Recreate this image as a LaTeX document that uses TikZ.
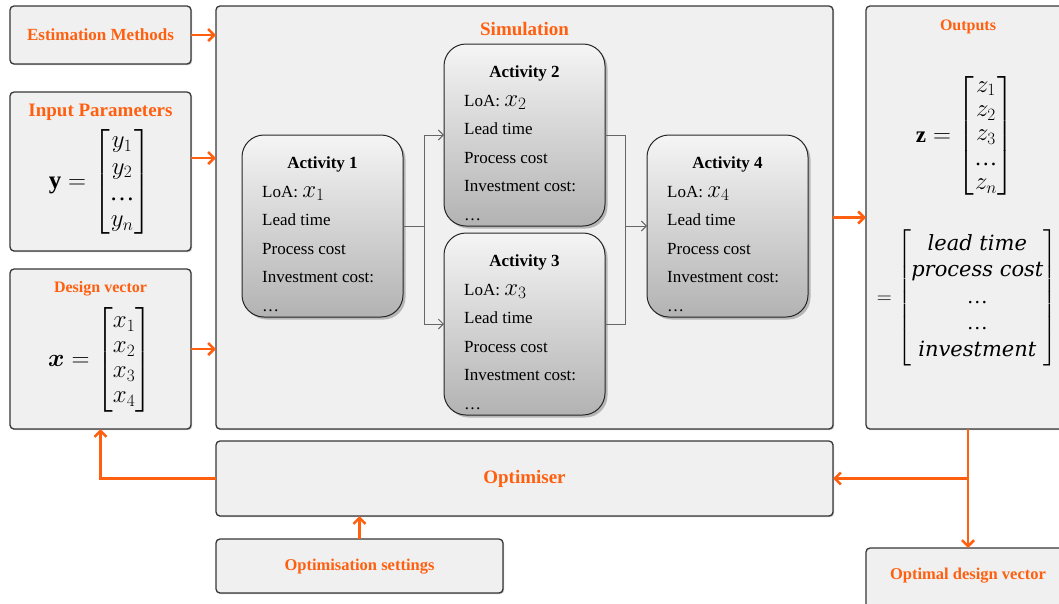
\documentclass[tikz,border=0pt]{standalone}
\usepackage{amsmath,bm}
\usepackage{fontspec}
\setmainfont{Liberation Serif}
\newfontfamily\wordfont{DejaVu Serif}
\usetikzlibrary{arrows.meta,shadows,calc}

\definecolor{accent}{RGB}{255,96,16}
\definecolor{panel}{RGB}{240,240,240}
\definecolor{edge}{RGB}{55,55,55}

\newcommand\wordit[1]{\text{\wordfont\itshape #1}}
\newcommand\dotsrow{\text{…}}

\tikzset{
  panelbox/.style={draw=edge, line width=1.3pt, fill=panel, rounded corners=4pt,
    outer sep=0pt, inner sep=0pt,
    drop shadow={shadow xshift=1.2pt, shadow yshift=-1.2pt, opacity=0.3, fill=black!70}},
  actbox/.style={draw=black!85, line width=1pt, rounded corners=22pt,
    top color=black!4, bottom color=black!30,
    minimum width=161pt, minimum height=182pt, outer sep=0pt, inner sep=0pt,
    drop shadow={shadow xshift=2.5pt, shadow yshift=-2.5pt, opacity=0.35, fill=black!70}},
  heading/.style={text=accent, inner sep=0pt, font=\bfseries\fontsize{17}{20}\selectfont},
  bigheading/.style={heading, font=\bfseries\fontsize{19}{22}\selectfont},
  acttitle/.style={anchor=base, inner sep=0pt, font=\bfseries\fontsize{17}{20}\selectfont},
  actline/.style={anchor=base west, inner sep=0pt, font=\fontsize{17}{20}\selectfont},
  mathbig/.style={inner sep=0pt, font=\fontsize{25}{25}\selectfont},
  feed/.style={draw=accent, line width=2.6pt, -{Straight Barb[length=6pt,width=12pt]}},
  link/.style={draw=black!60, line width=0.9pt},
  linkarrow/.style={link, -{Straight Barb[length=5pt,width=10pt,line width=0.9pt]}},
}

% one activity card: name, left x, top y, index
\newcommand\activity[4]{%
  \node[actbox, anchor=north west] (#1) at (#2,#3) {};
  \node[acttitle] (#1-title) at ($(#1.north)+(0,33)$) {Activity #4};
  \node[actline] (#1-loa) at ($(#1.north west)+(20,62)$) {LoA: {\fontsize{24}{24}\selectfont$x_{#4}$}};
  \node[actline] (#1-lead) at ($(#1.north west)+(20,90)$) {Lead time};
  \node[actline] (#1-proc) at ($(#1.north west)+(20,119)$) {Process cost};
  \node[actline] (#1-inv) at ($(#1.north west)+(20,147)$) {Investment cost:};
  \node[actline] (#1-more) at ($(#1.north west)+(20,176)$) {\ldots};
}

\begin{document}
\begin{tikzpicture}[x=1pt, y=-1pt]
  \useasboundingbox[fill=white] (0,0) rectangle (1059,603);

  % input panels
  \node[panelbox, minimum width=181pt, minimum height=58pt] (est) at (100.5,35) {};
  \node[heading] (est-label) at (100.5,35) {Estimation Methods};

  \node[panelbox, minimum width=181pt, minimum height=159pt] (inp) at (100.5,171.5) {};
  \node[bigheading] (inp-title) at (100.5,112) {Input Parameters};
  \node[mathbig] (inp-eq) at (100,182) {\renewcommand\arraystretch{1.05}$\mathbf{y} = \begin{bmatrix} y_1\\ y_2\\ \dotsrow\\ y_n \end{bmatrix}$};

  \node[panelbox, minimum width=181pt, minimum height=160pt] (dv) at (100.5,349) {};
  \node[heading, font=\bfseries\fontsize{16}{19}\selectfont] (dv-title) at (100.5,289) {Design vector};
  \node[mathbig] (dv-eq) at (100,360) {\renewcommand\arraystretch{1.0}$\boldsymbol{x} = \begin{bmatrix} x_1\\ x_2\\ x_3\\ x_4 \end{bmatrix}$};

  % simulation panel
  \node[panelbox, minimum width=617pt, minimum height=423pt] (sim) at (524.5,217.5) {};
  \node[bigheading] (sim-title) at (524.5,29) {Simulation};

  % outputs panel
  \node[panelbox, minimum width=204pt, minimum height=423pt] (out) at (968,217.5) {};
  \node[heading, font=\bfseries\fontsize{16}{19}\selectfont] (out-title) at (968,27) {Outputs};
  \node[mathbig, font=\fontsize{23}{23}\selectfont] (out-z) at (965,136) {\renewcommand\arraystretch{1.06}$\mathbf{z} = \begin{bmatrix} z_1\\ z_2\\ z_3\\ \dotsrow\\ z_n \end{bmatrix}$};
  \node[mathbig, font=\fontsize{21}{24}\selectfont] (out-words) at (967,298) {\renewcommand\arraystretch{1.1}$= \begin{bmatrix} \wordit{lead time}\\ \wordit{process cost}\\ \dotsrow\\ \dotsrow\\ \wordit{investment} \end{bmatrix}$};

  % optimisation loop panels
  \node[panelbox, minimum width=617pt, minimum height=75pt] (optim) at (524.5,478.5) {};
  \node[bigheading] (optim-label) at (524.5,479) {Optimiser};

  \node[panelbox, minimum width=287pt, minimum height=54pt] (set) at (359.5,566) {};
  \node[heading, font=\bfseries\fontsize{16.5}{19}\selectfont] (set-label) at (359.5,567) {Optimisation settings};

  \node[panelbox, minimum width=204pt, minimum height=67pt] (odv) at (968,581.5) {};
  \node[heading, font=\bfseries\fontsize{16.5}{19}\selectfont] (odv-label) at (968,576) {Optimal design vector};

  % activity cards
  \activity{act1}{242}{135}{1}
  \activity{act2}{444}{44}{2}
  \activity{act3}{444}{233}{3}
  \activity{act4}{647}{135}{4}

  % activity flow
  \coordinate (split) at (424,226);
  \coordinate (join) at (625,226);
  \draw[link] (act1.east) -- (split);
  \draw[linkarrow] (split) |- (act2.west);
  \draw[linkarrow] (split) |- (act3.west);
  \draw[link] (act2.east) -| (join);
  \draw[link] (act3.east) -| (join);
  \draw[linkarrow] (join) -- (act4.west);

  % data flow
  \draw[feed] (est.east) -- (est.east -| sim.west);
  \draw[feed] ([yshift=13.5pt]inp.east) -- ([yshift=13.5pt]inp.east -| sim.west);
  \draw[feed] (dv.east) -- (dv.east -| sim.west);
  \draw[feed] (sim.east) -- (sim.east -| out.west);
  \coordinate (branch) at (out.south |- optim.east);
  \draw[feed] (out.south) -- (odv.north);
  \draw[feed] (branch) -- (optim.east);
  \draw[feed] (optim.west) -| (dv.south);
  \draw[feed] (set.north) -- (set.north |- optim.south);
\end{tikzpicture}
\end{document}
